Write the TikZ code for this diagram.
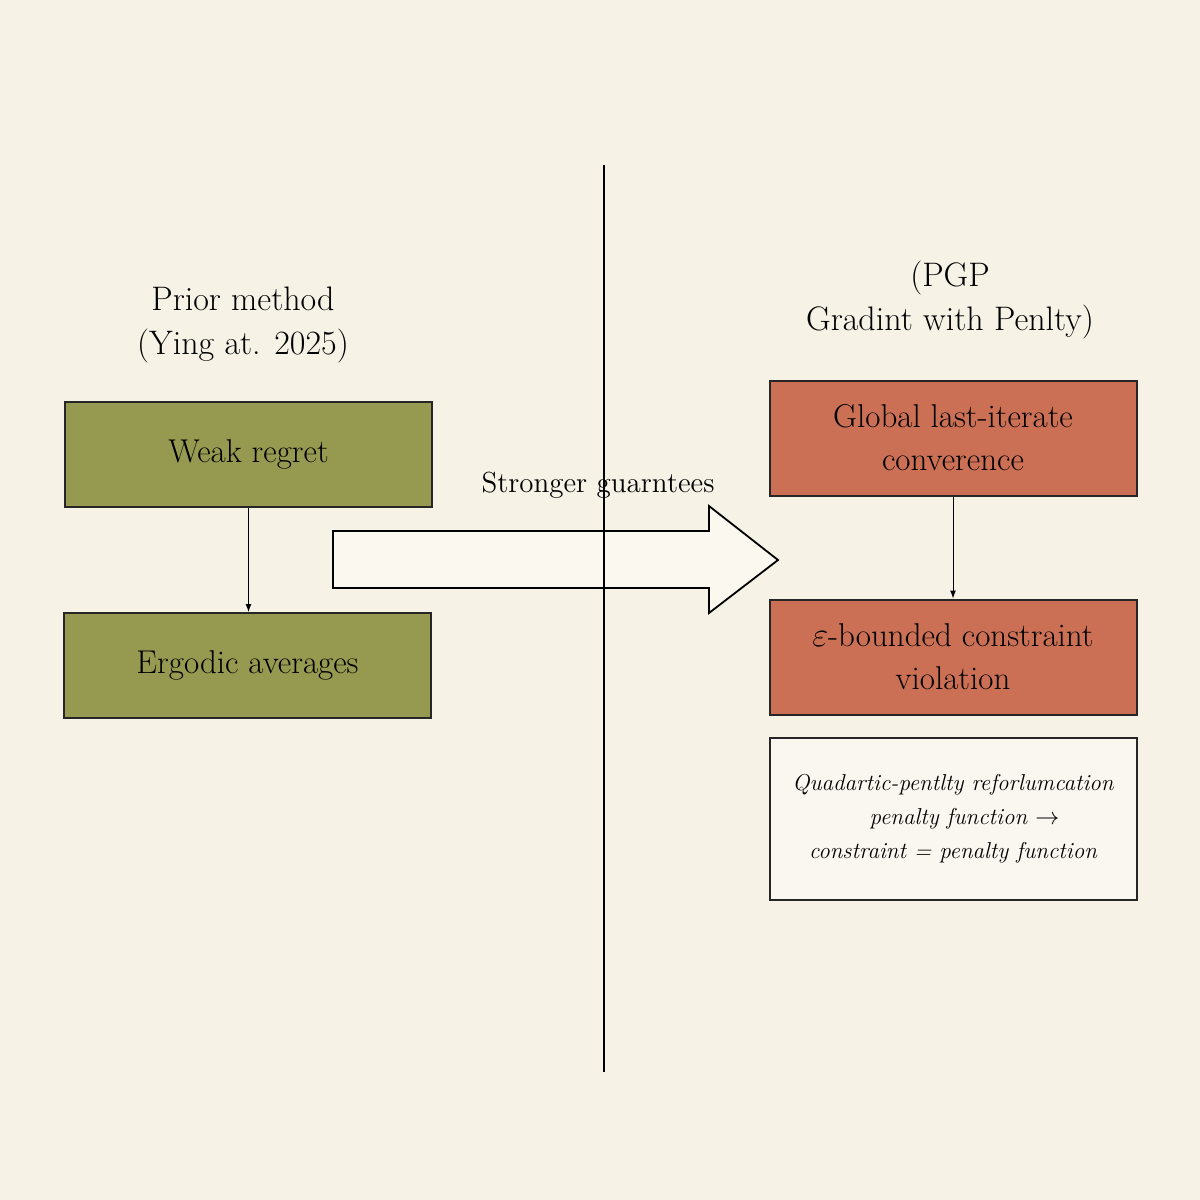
\documentclass[tikz,border=0pt]{standalone}
\usepackage{amssymb}
\usetikzlibrary{arrows.meta}
\begin{document}
\begin{tikzpicture}[x=0.5pt,y=-0.5pt,
  box/.style={draw=black!85,line width=1pt,minimum width=183.5pt,anchor=center,align=center,inner sep=0pt},
  gb/.style={box,fill=green1,minimum height=52.5pt,font=\fontsize{16.5}{19}\selectfont},
  ob/.style={box,fill=orange1,minimum height=57.5pt,font=\fontsize{16.5}{21.5}\selectfont},
  ttl/.style={align=center,font=\fontsize{17}{22}\selectfont},
  arr/.style={-{Latex[length=4pt,width=3pt]},line width=0.5pt}]
\definecolor{bg}{HTML}{F6F2E6}
\definecolor{green1}{HTML}{969A50}
\definecolor{orange1}{HTML}{CC7055}
\definecolor{ar}{HTML}{FBF8F0}
\useasboundingbox[fill=bg] (0,0) rectangle (1200,1200);
\node[ttl] (lt) at (243,325) {Prior method\\(Ying at. 2025)};
\node[ttl] (rt) at (950,300) {(PGP\\Gradint with Penlty)};
\node[gb] (wr) at (248.5,454.5) {Weak regret};
\node[gb] (ea) at (247.5,665.5) {Ergodic averages};
\node[ob] (gl) at (953,438) {Global last-iterate\\converence};
\node[ob] (eb) at (953,657) {$\varepsilon$-bounded constraint\\violation};
\node[box,fill=white!40!bg,minimum height=81pt,font=\fontsize{11.5}{17}\selectfont\itshape] (qp) at (953,819)
  {Quadartic-pentlty reforlumcation\\\quad penalty function $\rightarrow$\\constraint = penalty function};
\draw[arr] (wr.south) -- (wr.south |- ea.north);
\draw[arr] (gl) -- (eb);
\draw[fill=ar,line width=0.9pt] (333,531) -- (709,531) -- (709,506) -- (778,560) -- (709,613) -- (709,588) -- (333,588) -- cycle;
\node[font=\fontsize{14.5}{17}\selectfont] (sg) at (598,485) {Stronger guarntees};
\coordinate (vt) at (604,165); \coordinate (vb) at (604,1072);
\draw[line width=0.9pt] (vt) -- (vb);
\end{tikzpicture}
\end{document}
